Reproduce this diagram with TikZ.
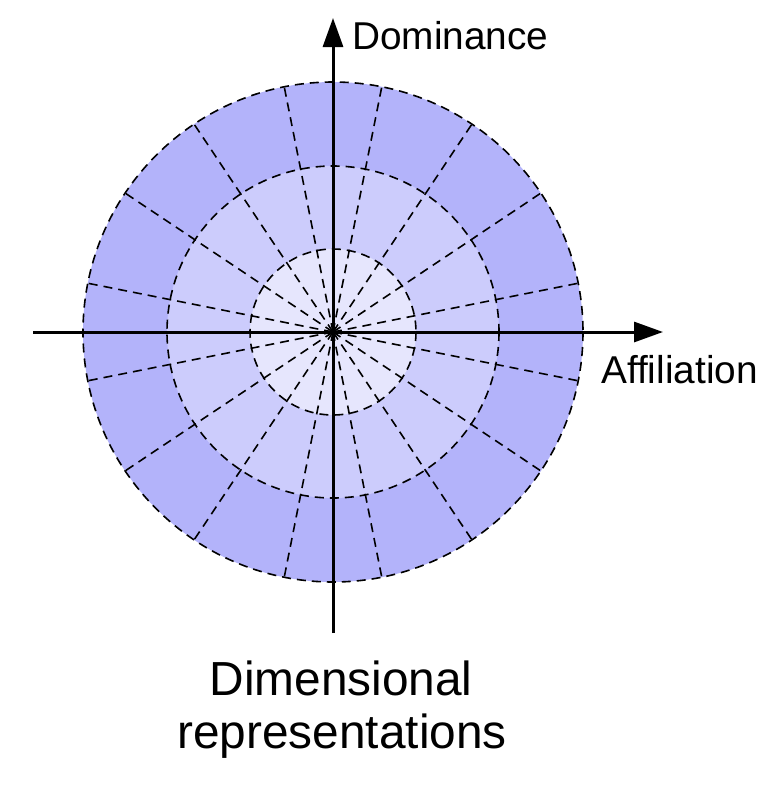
\documentclass[tikz,border=0pt]{standalone}
\usepackage{fontspec}
\setmainfont{Liberation Sans}[Ligatures=NoCommon]
\usetikzlibrary{arrows.meta}
\definecolor{ringout}{RGB}{179,179,250}
\definecolor{ringmid}{RGB}{204,204,252}
\definecolor{ringin}{RGB}{230,230,253}
\tikzset{
  dashline/.style={line width=1.6pt, dash pattern=on 9pt off 6pt},
  axisline/.style={line width=3pt, -{Triangle[length=29pt,width=20pt]}},
  lbl/.style={inner sep=0pt, font=\fontsize{38.8}{46}\selectfont},
  biglbl/.style={inner sep=0pt, font=\fontsize{47.8}{56}\selectfont},
}
\begin{document}
\begin{tikzpicture}[x=1pt,y=-1pt]
\useasboundingbox (0,0) rectangle (783,793);
\coordinate (c) at (333,332);
% fills
\fill[ringout] (c) circle[radius=250];
\fill[ringmid] (c) circle[radius=166];
\fill[ringin] (c) circle[radius=83];
% spokes
\foreach \a in {0,...,15}{
  \draw[dashline] (c) -- ++({11.25+22.5*\a}:250);
}
% circles
\draw[dashline] (c) circle[radius=250];
\draw[dashline] (c) circle[radius=166];
\draw[dashline] (c) circle[radius=83];
% axes
\coordinate (xstart) at (33,332);
\coordinate (xend) at (663,332);
\coordinate (ystart) at (333,633);
\coordinate (yend) at (333,18);
\draw[axisline] (xstart) -- (xend);
\draw[axisline] (ystart) -- (yend);
% labels
\node[lbl, anchor=base west] (dom) at (352,49) {Dominance};
\node[lbl, anchor=base west] (aff) at (601,383) {Affiliation};
\node[biglbl, anchor=base] (t1) at (341,695) {Dimensional};
\node[biglbl, anchor=base] (t2) at (342,748) {representations};
\end{tikzpicture}
\end{document}
